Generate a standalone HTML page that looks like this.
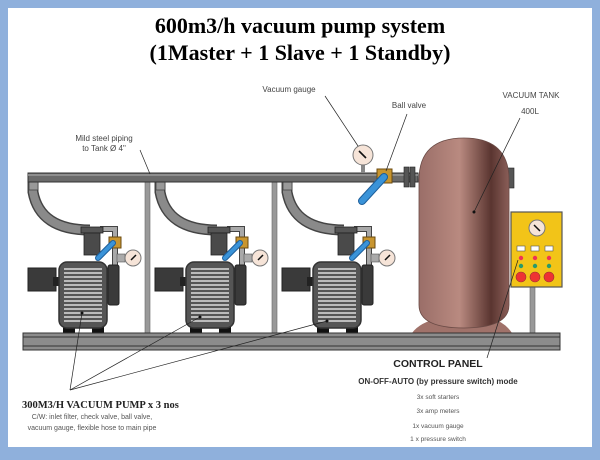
<!DOCTYPE html>
<html><head><meta charset="utf-8"><style>
html,body{margin:0;padding:0;background:#8fb0dc;}
svg{display:block}
</style></head><body>
<svg width="600" height="460" viewBox="0 0 600 460" xmlns="http://www.w3.org/2000/svg" font-family="Liberation Sans, sans-serif">
<defs>
<linearGradient id="tank" x1="0" x2="1" y1="0" y2="0">
<stop offset="0" stop-color="#9a6e68"/><stop offset="0.45" stop-color="#b98a80"/><stop offset="0.8" stop-color="#5a3530"/><stop offset="1" stop-color="#8a5e58"/>
</linearGradient>
<g id="pump">
<path d="M33 182 L33 192 Q40 230 90 230" fill="none" stroke="#444" stroke-width="11"/>
<path d="M33 182 L33 192 Q40 230 90 230" fill="none" stroke="#8a8a8a" stroke-width="8"/>
<rect x="29" y="182" width="9" height="8" fill="#999" stroke="#444" stroke-width="0.8"/>
<path d="M100 229 H115 V265" fill="none" stroke="#444" stroke-width="6"/>
<path d="M100 229 H115 V265" fill="none" stroke="#a8a8a8" stroke-width="4"/>
<rect x="81" y="227" width="22" height="6" fill="#555" stroke="#222" stroke-width="0.8"/>
<rect x="84" y="233" width="16" height="22" fill="#4a4a4a" stroke="#222" stroke-width="0.8"/>
<rect x="109" y="237" width="12" height="11" fill="#c8952f" stroke="#6a4a10"/>
<line x1="113" y1="243" x2="98" y2="258" stroke="#1d5e9a" stroke-width="6" stroke-linecap="round"/>
<line x1="113" y1="243" x2="98" y2="258" stroke="#3a93d8" stroke-width="4" stroke-linecap="round"/>
<rect x="117" y="254" width="8" height="8" fill="#aaa" stroke="#555" stroke-width="0.6"/>
<circle cx="133" cy="258" r="8" fill="#f6e4d8" stroke="#777"/>
<line x1="131" y1="260" x2="136" y2="255" stroke="#111" stroke-width="1.5"/>
<rect x="28" y="268" width="28" height="23" fill="#3a3a3a" stroke="#222"/>
<rect x="53" y="277" width="8" height="9" fill="#222"/>
<rect x="108" y="265" width="11" height="40" rx="2" fill="#3a3a3a" stroke="#222"/>
<rect x="63" y="326" width="12" height="7" fill="#111"/>
<rect x="92" y="326" width="12" height="7" fill="#111"/>
<rect x="59" y="262" width="48" height="66" rx="8" fill="#555" stroke="#333" stroke-width="1.5"/>
<g stroke="#ddd" stroke-width="1.6">
<line x1="64" y1="269" x2="102" y2="269"/><line x1="64" y1="273" x2="102" y2="273"/><line x1="64" y1="277" x2="102" y2="277"/><line x1="64" y1="281" x2="102" y2="281"/><line x1="64" y1="285" x2="102" y2="285"/><line x1="64" y1="289" x2="102" y2="289"/><line x1="64" y1="293" x2="102" y2="293"/><line x1="64" y1="297" x2="102" y2="297"/><line x1="64" y1="301" x2="102" y2="301"/><line x1="64" y1="305" x2="102" y2="305"/><line x1="64" y1="309" x2="102" y2="309"/><line x1="64" y1="313" x2="102" y2="313"/><line x1="64" y1="317" x2="102" y2="317"/><line x1="64" y1="321" x2="102" y2="321"/>
</g>
</g>
</defs>
<rect x="8" y="8" width="584" height="439" fill="#fff"/>
<text x="300" y="33" text-anchor="middle" font-family="Liberation Serif, serif" font-weight="bold" font-size="22">600m3/h vacuum pump system</text>
<text x="300" y="60" text-anchor="middle" font-family="Liberation Serif, serif" font-weight="bold" font-size="22">(1Master + 1 Slave + 1 Standby)</text>

<!-- posts -->
<rect x="145" y="182" width="5" height="151" fill="#999" stroke="#666" stroke-width="0.6"/>
<rect x="272" y="182" width="5" height="151" fill="#999" stroke="#666" stroke-width="0.6"/>
<rect x="530" y="287" width="5" height="46" fill="#999" stroke="#666" stroke-width="0.6"/>

<use href="#pump"/>
<use href="#pump" x="127"/>
<use href="#pump" x="254"/>

<!-- main pipe -->
<rect x="28" y="173" width="390" height="9" fill="#6a6a6a" stroke="#333"/>
<line x1="28" y1="175" x2="418" y2="175" stroke="#999" stroke-width="1.5"/>
<rect x="404" y="167" width="5" height="20" fill="#555" stroke="#222" stroke-width="0.6"/>
<rect x="410" y="167" width="5" height="20" fill="#555" stroke="#222" stroke-width="0.6"/>
<!-- main gauge -->
<rect x="361" y="163" width="4" height="10" fill="#888"/>
<circle cx="363" cy="155" r="10" fill="#f6e4d8" stroke="#777"/>
<line x1="359" y1="151" x2="366" y2="158" stroke="#111" stroke-width="1.6"/>
<rect x="377" y="169" width="15" height="14" fill="#c8952f" stroke="#6a4a10"/>
<line x1="384" y1="177" x2="362" y2="201" stroke="#1d5e9a" stroke-width="8" stroke-linecap="round"/>
<line x1="384" y1="177" x2="362" y2="201" stroke="#3a93d8" stroke-width="6" stroke-linecap="round"/>

<!-- tank -->
<rect x="508" y="168" width="6" height="20" fill="#555" stroke="#222" stroke-width="0.6"/>
<path d="M412 333 Q420 322 440 318 L490 318 Q505 322 512 333 Z" fill="#a0726a"/>
<path d="M419 180 Q419 138 464 138 Q509 138 509 180 L509 305 Q509 328 464 328 Q419 328 419 305 Z" fill="url(#tank)" stroke="#6a4a45" stroke-width="0.8"/>

<!-- control panel -->
<rect x="511" y="212" width="51" height="75" fill="#f2c418" stroke="#555" stroke-width="1.2"/>
<circle cx="537" cy="228" r="8" fill="#f6e4d8" stroke="#777"/>
<line x1="534" y1="225" x2="540" y2="231" stroke="#111" stroke-width="1.5"/>
<g fill="#fff" stroke="#555" stroke-width="0.6"><rect x="517" y="246" width="8" height="5"/><rect x="531" y="246" width="8" height="5"/><rect x="545" y="246" width="8" height="5"/></g>
<g fill="#e35" ><circle cx="521" cy="258" r="2.2"/><circle cx="535" cy="258" r="2.2"/><circle cx="549" cy="258" r="2.2"/></g>
<g fill="#2a9a6a"><circle cx="521" cy="266" r="2.2"/><circle cx="535" cy="266" r="2.2"/><circle cx="549" cy="266" r="2.2"/></g>
<g fill="#e33" stroke="#933" stroke-width="0.6"><circle cx="521" cy="277" r="5"/><circle cx="535" cy="277" r="5"/><circle cx="549" cy="277" r="5"/></g>

<!-- beam -->
<rect x="23" y="333" width="537" height="17" fill="#8c8c8c" stroke="#333"/>
<line x1="23" y1="337" x2="560" y2="337" stroke="#333" stroke-width="1"/>
<line x1="23" y1="346" x2="560" y2="346" stroke="#333" stroke-width="1"/>

<!-- leaders -->
<g stroke="#222" stroke-width="0.7" fill="none">
<line x1="70" y1="390" x2="82" y2="313"/>
<line x1="70" y1="390" x2="200" y2="317"/>
<line x1="70" y1="390" x2="327" y2="321"/>
<line x1="487" y1="358" x2="518" y2="260"/>
<line x1="325" y1="96" x2="358" y2="146"/>
<line x1="407" y1="114" x2="386" y2="171"/>
<line x1="520" y1="118" x2="474" y2="212"/>
<line x1="140" y1="150" x2="150" y2="174"/>
</g>
<g fill="#111"><circle cx="82" cy="313" r="1.5"/><circle cx="200" cy="317" r="1.5"/><circle cx="327" cy="321" r="1.5"/><circle cx="474" cy="212" r="1.5"/></g>

<!-- labels -->
<g font-size="8" fill="#444">
<text x="289" y="92" text-anchor="middle">Vacuum gauge</text>
<text x="409" y="108" text-anchor="middle">Ball valve</text>
<text x="531" y="98" text-anchor="middle">VACUUM TANK</text>
<text x="530" y="114" text-anchor="middle">400L</text>
<text x="104" y="141" text-anchor="middle">Mild steel piping</text>
<text x="104" y="151" text-anchor="middle">to Tank Ø 4"</text>
</g>
<text x="438" y="367" text-anchor="middle" font-size="10.5" font-weight="bold" fill="#222">CONTROL PANEL</text>
<text x="438" y="384" text-anchor="middle" font-size="8" font-weight="bold" fill="#333">ON-OFF-AUTO (by pressure switch) mode</text>
<g font-size="6.5" fill="#555" text-anchor="middle">
<text x="438" y="399">3x soft starters</text>
<text x="438" y="413">3x amp meters</text>
<text x="438" y="428">1x vacuum gauge</text>
<text x="438" y="441">1 x pressure switch</text>
</g>
<text x="22" y="408" font-family="Liberation Serif, serif" font-weight="bold" font-size="10.5" fill="#222">300M3/H VACUUM PUMP x 3 nos</text>
<g font-size="7" fill="#555" text-anchor="middle">
<text x="92" y="419">C/W: inlet filter, check valve, ball valve,</text>
<text x="92" y="430">vacuum gauge, flexible hose to main pipe</text>
</g>
</svg>
</body></html>
